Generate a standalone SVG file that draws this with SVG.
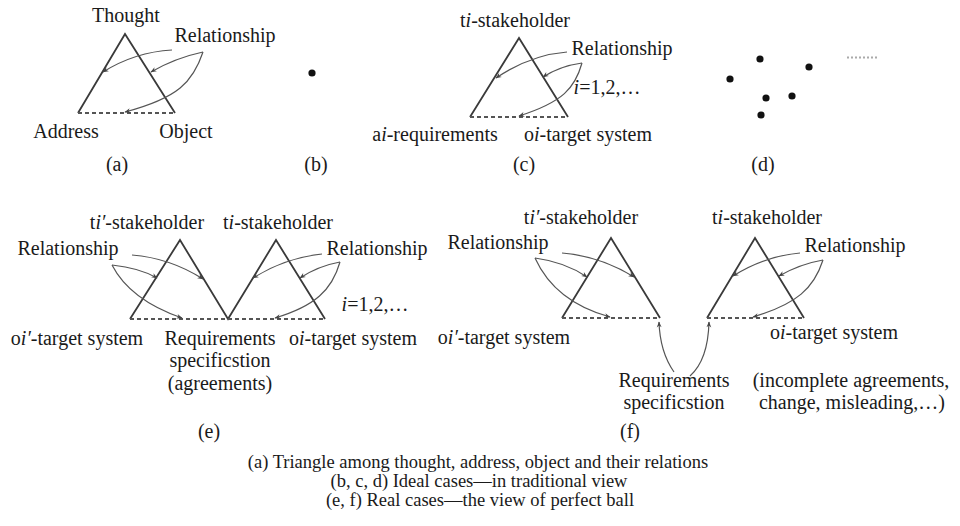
<svg xmlns="http://www.w3.org/2000/svg" width="960" height="526" viewBox="0 0 960 526" font-family="'Liberation Serif', serif">
<style>
  text { font-family: "Liberation Serif", serif; font-size: 20px; fill: #1a1a1a; text-anchor: middle; }
  .cap { font-size: 18.5px; }
  .tri { fill: none; stroke: #3a3a3a; stroke-width: 1.8; stroke-linejoin: miter; }
  .base { fill: none; stroke: #555; stroke-width: 1.8; stroke-dasharray: 4 3; }
  .rel { fill: none; stroke: #555; stroke-width: 1.2; marker-end: url(#ah); }
  .dot { fill: #111; }
</style>
<defs>
  <marker id="ah" viewBox="0 0 10 10" refX="9" refY="5" markerWidth="8" markerHeight="6" markerUnits="userSpaceOnUse" orient="auto">
    <path d="M0,1 L10,5 L0,9 L3,5 Z" fill="#444"/>
  </marker>
</defs>
<rect width="960" height="526" fill="#fff"/>

<!-- (a) -->
<g id="a-triangle">
  <path class="tri" d="M78,113 L125,34 L175,113"/>
  <line class="base" x1="78" y1="113" x2="175" y2="113"/>
</g>
<g id="a-labels" font-family="'Liberation Serif', serif">
  <text x="126" y="22">Thought</text>
  <text x="225" y="42">Relationship</text>
  <text x="66" y="138">Address</text>
  <text x="186" y="138">Object</text>
  <text x="117" y="171">(a)</text>
</g>

<!-- (b) -->
<g id="b" font-family="'Liberation Serif', serif">
  <circle class="dot" cx="312" cy="73" r="3.6"/>
  <text x="316" y="171">(b)</text>
</g>

<!-- (c) -->
<g id="c-triangle">
  <path class="tri" d="M470,117 L519,38 L568,117"/>
  <line class="base" x1="470" y1="117" x2="568" y2="117"/>
</g>
<g id="c-labels" font-family="'Liberation Serif', serif">
  <text x="515" y="27">t<tspan font-style="italic">i</tspan>-stakeholder</text>
  <text x="622" y="55">Relationship</text>
  <text x="607" y="94"><tspan font-style="italic">i</tspan>=1,2,…</text>
  <text x="435" y="141">a<tspan font-style="italic">i</tspan>-requirements</text>
  <text x="588" y="141">o<tspan font-style="italic">i</tspan>-target system</text>
  <text x="524" y="171">(c)</text>
</g>

<!-- (d) -->
<g id="d" font-family="'Liberation Serif', serif">
  <circle class="dot" cx="730" cy="79" r="3.6"/>
  <circle class="dot" cx="760" cy="59" r="3.6"/>
  <circle class="dot" cx="809" cy="67" r="3.6"/>
  <circle class="dot" cx="766" cy="98" r="3.6"/>
  <circle class="dot" cx="792" cy="96" r="3.6"/>
  <circle class="dot" cx="761" cy="115" r="3.6"/>
  <line x1="847" y1="57.5" x2="879" y2="57.5" stroke="#aaa" stroke-width="2" stroke-dasharray="2 2"/>
  <text x="763" y="171">(d)</text>
</g>

<!-- (e) -->
<g id="e-triangles">
  <path class="tri" d="M130,319 L180,240 L228,319 L276,240 L325,319"/>
  <line class="base" x1="130" y1="319" x2="325" y2="319"/>
</g>
<g id="e-labels" font-family="'Liberation Serif', serif">
  <text x="147" y="229">t<tspan font-style="italic">i′</tspan>-stakeholder</text>
  <text x="278" y="229">t<tspan font-style="italic">i</tspan>-stakeholder</text>
  <text x="68" y="255">Relationship</text>
  <text x="377" y="255">Relationship</text>
  <text x="375" y="311"><tspan font-style="italic">i</tspan>=1,2,…</text>
  <text x="77" y="345">o<tspan font-style="italic">i′</tspan>-target system</text>
  <text x="220" y="345">Requirements</text>
  <text x="220" y="367">specificstion</text>
  <text x="220" y="390">(agreements)</text>
  <text x="353" y="345">o<tspan font-style="italic">i</tspan>-target system</text>
  <text x="209" y="438">(e)</text>
</g>

<!-- (f) -->
<g id="f-left-triangle">
  <path class="tri" d="M562,318 L611,238 L660,318"/>
  <line class="base" x1="562" y1="318" x2="660" y2="318"/>
</g>
<g id="f-right-triangle">
  <path class="tri" d="M707,318 L755,238 L804,318"/>
  <line class="base" x1="707" y1="318" x2="804" y2="318"/>
</g>
<g id="f-labels" font-family="'Liberation Serif', serif">
  <text x="581" y="224">t<tspan font-style="italic">i′</tspan>-stakeholder</text>
  <text x="767" y="224">t<tspan font-style="italic">i</tspan>-stakeholder</text>
  <text x="498" y="249">Relationship</text>
  <text x="855" y="252">Relationship</text>
  <text x="504" y="344">o<tspan font-style="italic">i′</tspan>-target system</text>
  <text x="834" y="339">o<tspan font-style="italic">i</tspan>-target system</text>
  <text x="674" y="387">Requirements</text>
  <text x="674" y="409">specificstion</text>
  <text x="851" y="387">(incomplete agreements,</text>
  <text x="852" y="409">change, misleading,…)</text>
  <text x="630" y="438">(f)</text>
</g>

<!-- connectors -->
<g id="connectors">
  <path class="rel" d="M172,50 Q135,52 103,72"/>
  <path class="rel" d="M203,52 Q175,58 151,72"/>
  <path class="rel" d="M203,52 C193,82 178,98 125,112"/>

  <path class="rel" d="M567,52 Q530,55 496,78"/>
  <path class="rel" d="M582,63 Q560,66 543,77"/>
  <path class="rel" d="M582,63 C575,88 563,102 519,116"/>

  <path class="rel" d="M132,255 Q170,258 203,279"/>
  <path class="rel" d="M112,265 Q140,268 157,278"/>
  <path class="rel" d="M112,265 Q130,300 182,318"/>

  <path class="rel" d="M322,254 Q285,258 253,278"/>
  <path class="rel" d="M340,262 Q318,266 300,278"/>
  <path class="rel" d="M340,262 C332,290 315,306 275,318"/>

  <path class="rel" d="M562,253 Q600,256 634,277"/>
  <path class="rel" d="M535,258 Q565,262 587,277"/>
  <path class="rel" d="M535,258 Q555,302 610,317"/>

  <path class="rel" d="M800,253 Q765,256 733,276"/>
  <path class="rel" d="M823,260 Q800,264 779,276"/>
  <path class="rel" d="M823,260 C814,288 797,304 753,317"/>

  <path class="rel" d="M674,372 Q660,352 659,322"/>
  <path class="rel" d="M690,376 Q708,360 709,322"/>
</g>

<g id="caption" font-family="'Liberation Serif', serif">
  <text class="cap" x="478" y="468">(a) Triangle among thought, address, object and their relations</text>
  <text class="cap" x="479" y="487">(b, c, d) Ideal cases—in traditional view</text>
  <text class="cap" x="480" y="506">(e, f) Real cases—the view of perfect ball</text>
</g>
</svg>
